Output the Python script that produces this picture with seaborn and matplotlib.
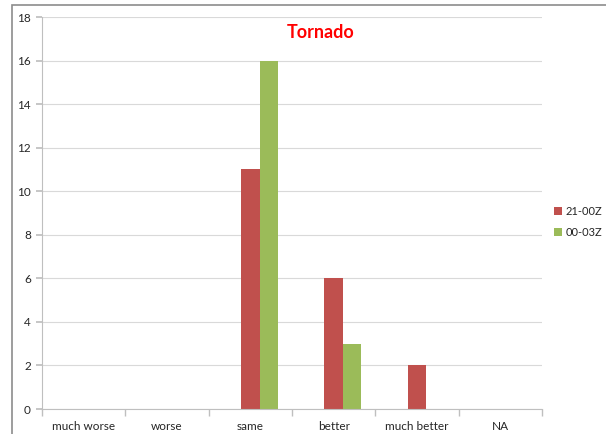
import matplotlib
matplotlib.use('Agg')
import matplotlib.pyplot as plt
import numpy as np
import pandas as pd
import seaborn as sns
from matplotlib.patches import Rectangle, Patch

categories = ['much worse', 'worse', 'same', 'better', 'much better', 'NA']
series_names = ['21-00Z', '00-03Z']
values_2100 = [0, 0, 11, 6, 2, 0]
values_0003 = [0, 0, 16, 3, 0, 0]
y_ticks = list(range(0, 20, 2))

COLORS = {'_pad': '#FFFFFF', '21-00Z': '#C0504D', '00-03Z': '#9BBB59'}

sns.set_theme(style='white')
plt.rcParams['font.family'] = ['Lato', 'DejaVu Sans']

# long form; an empty slot on the left reproduces the original group offset
rows = []
for c, a, b in zip(categories, values_2100, values_0003):
    rows.append({'cat': c, 'series': '_pad', 'val': 0})
    rows.append({'cat': c, 'series': '21-00Z', 'val': a})
    rows.append({'cat': c, 'series': '00-03Z', 'val': b})
df = pd.DataFrame(rows)

fig = plt.figure(figsize=(6.06, 4.34), dpi=100)
ax = fig.add_axes([42 / 606, 1 - 409 / 434, 500 / 606, 392 / 434])

sns.barplot(data=df, x='cat', y='val', hue='series',
            order=categories, hue_order=['_pad', '21-00Z', '00-03Z'],
            palette=COLORS, width=0.667, gap=0, saturation=1,
            linewidth=0, legend=False, ax=ax)

ax.set_ylim(0, 18)
ax.set_xlim(-0.5, 5.5)
ax.set_yticks(y_ticks)
ax.yaxis.grid(True, color='#D9D9D9', linewidth=0.8)
ax.set_axisbelow(True)
ax.set_xlabel('')
ax.set_ylabel('')

for s in ['top', 'right']:
    ax.spines[s].set_visible(False)
for s in ['left', 'bottom']:
    ax.spines[s].set_color('#BFBFBF')
    ax.spines[s].set_linewidth(0.8)

ax.tick_params(axis='y', length=4, color='#BFBFBF', labelsize=8.5, pad=4, left=True)
ax.tick_params(axis='x', which='major', length=0, labelsize=8.5, pad=9, bottom=True)
ax.set_xticks(np.arange(-0.5, 6.0, 1.0), minor=True)
ax.tick_params(axis='x', which='minor', length=5, color='#BFBFBF', bottom=True)

fig.text(321 / 606, 1 - 33 / 434, 'Tornado', color='#FF0000', fontsize=13,
         fontweight='bold', ha='center', va='center')

handles = [Patch(facecolor=COLORS[n], edgecolor='none') for n in series_names]
fig.legend(handles, series_names, loc='center left',
           bbox_to_anchor=(546 / 606, 1 - 222 / 434), frameon=False,
           fontsize=8, handlelength=0.7, handleheight=0.7, handletextpad=0.4,
           labelspacing=0.9, borderpad=0.2)

fig.patches.append(Rectangle((12 / 606, -0.1), 1.2, 1.1 - 5 / 434,
                             transform=fig.transFigure, fill=False,
                             edgecolor='#8C8C8C', linewidth=1.2))

fig.savefig('out.png', dpi=100)
